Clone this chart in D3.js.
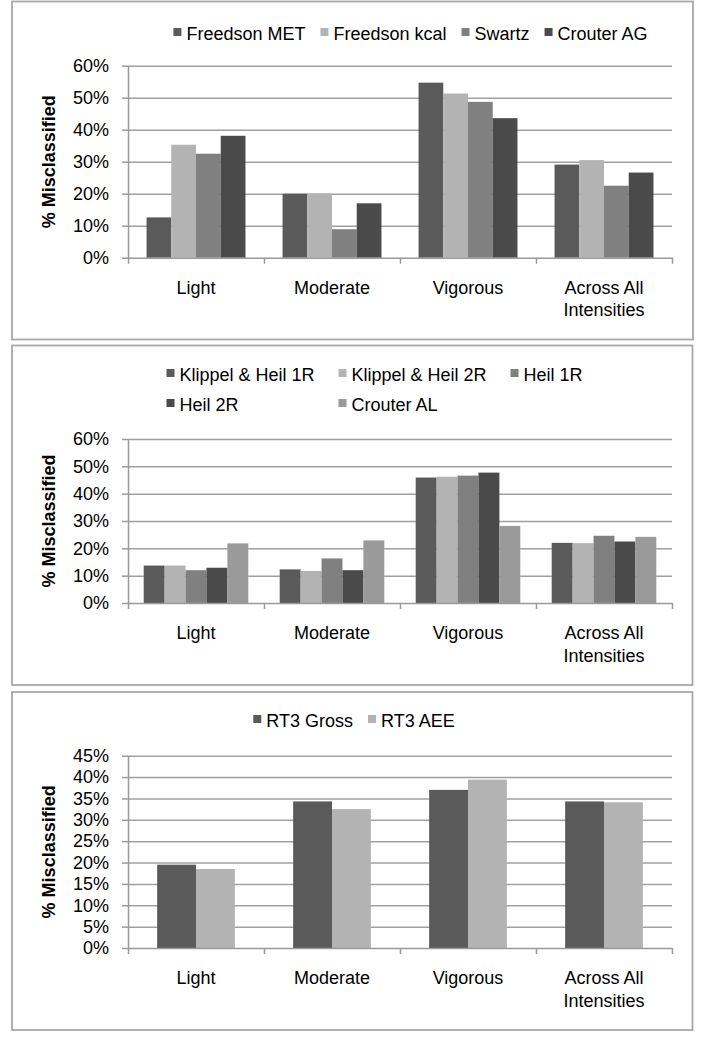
<!DOCTYPE html>
<html>
<head>
<meta charset="utf-8">
<script src="https://cdn.jsdelivr.net/npm/d3@7"></script>
<style>
  html, body { margin: 0; padding: 0; background: #fff; }
  svg { display: block; }
  text { font-family: "Liberation Sans", Arial, sans-serif; fill: #000; }
</style>
</head>
<body>
<svg id="chart" width="702" height="1050"></svg>
<script>
// ---------- data ----------
const categories = ["Light", "Moderate", "Vigorous", "Across All Intensities"];
const categoryLines = [["Light"], ["Moderate"], ["Vigorous"], ["Across All", "Intensities"]];

// Panel 1
const series1 = ["Freedson MET", "Freedson kcal", "Swartz", "Crouter AG"];
const freedsonMET  = [12.6, 20.0, 54.7, 29.1];
const freedsonKcal = [35.3, 20.1, 51.3, 30.5];
const swartz       = [32.5, 8.9, 48.7, 22.5];
const crouterAG    = [38.1, 17.0, 43.6, 26.6];
const yTicks1 = [0, 10, 20, 30, 40, 50, 60];

// Panel 2
const series2 = ["Klippel & Heil 1R", "Klippel & Heil 2R", "Heil 1R", "Heil 2R", "Crouter AL"];
const klippelHeil1R = [13.7, 12.3, 45.9, 22.0];
const klippelHeil2R = [13.7, 11.7, 46.2, 21.9];
const heil1R        = [12.0, 16.3, 46.6, 24.6];
const heil2R        = [12.9, 12.0, 47.7, 22.5];
const crouterAL     = [21.8, 22.9, 28.2, 24.2];
const yTicks2 = [0, 10, 20, 30, 40, 50, 60];

// Panel 3
const series3 = ["RT3 Gross", "RT3 AEE"];
const rt3Gross = [19.5, 34.3, 37.0, 34.3];
const rt3AEE   = [18.5, 32.5, 39.4, 34.1];
const yTicks3 = [0, 5, 10, 15, 20, 25, 30, 35, 40, 45];

// ---------- styles / layout ----------
const seriesColors1 = ["#5a5a5a", "#b3b3b3", "#808080", "#4a4a4a"];
const seriesColors2 = ["#5a5a5a", "#b3b3b3", "#808080", "#4a4a4a", "#9a9a9a"];
const seriesColors3 = ["#5a5a5a", "#b3b3b3"];

const panels = [
  { box: [12, 1.5, 681, 338], top: 65.7, bottom: 257.7, names: series1,
    values: [freedsonMET, freedsonKcal, swartz, crouterAG], colors: seriesColors1, ticks: yTicks1,
    legend: { type: "row", center: 410.5, y: [34] } },
  { box: [12, 345.5, 680.5, 339.5], top: 439, bottom: 603, names: series2,
    values: [klippelHeil1R, klippelHeil2R, heil1R, heil2R, crouterAL], colors: seriesColors2, ticks: yTicks2,
    legend: { type: "grid", x0: 166.5, colW: 172, cols: 3, y: [375, 405] } },
  { box: [12, 692, 680.5, 338], top: 755.7, bottom: 948, names: series3,
    values: [rt3Gross, rt3AEE], colors: seriesColors3, ticks: yTicks3,
    legend: { type: "row", center: 354, y: [721] } }
];

const svg = d3.select("#chart");
const plotLeft = 128, plotRight = 672;
const FONT = 18;

panels.forEach(p => {
  const g = svg.append("g");
  // border
  g.append("rect")
    .attr("x", p.box[0]).attr("y", p.box[1]).attr("width", p.box[2]).attr("height", p.box[3])
    .attr("fill", "#fff").attr("stroke", "#a8a8a8").attr("stroke-width", 1.8);

  const yMax = d3.max(p.ticks);
  const y = d3.scaleLinear().domain([0, yMax]).range([p.bottom, p.top]);
  const x = d3.scaleBand().domain(categories).range([plotLeft, plotRight]).padding(0);
  const xs = d3.scaleBand().domain(p.names).range([0, x.bandwidth()])
    .paddingInner(0).paddingOuter(0.75);

  // gridlines
  const grid = g.append("g").attr("transform", `translate(${plotLeft},0)`)
    .call(d3.axisLeft(y).tickValues(p.ticks.filter(t => t > 0)).tickSize(-(plotRight - plotLeft)).tickFormat(""));
  grid.select(".domain").remove();
  grid.selectAll(".tick line").attr("stroke", "#a0a0a0").attr("stroke-width", 1.5);

  // bars
  p.names.forEach((name, si) => {
    g.append("g").selectAll("rect")
      .data(p.values[si])
      .join("rect")
      .attr("x", (d, i) => x(categories[i]) + xs(name))
      .attr("width", xs.bandwidth())
      .attr("y", d => y(d))
      .attr("height", d => y(0) - y(d))
      .attr("fill", p.colors[si]);
  });

  // y axis
  const ya = g.append("g").attr("transform", `translate(${plotLeft},0)`)
    .call(d3.axisLeft(y).tickValues(p.ticks).tickFormat(d => d + "%").tickSize(6).tickSizeOuter(0).tickPadding(13));
  ya.select(".domain").attr("stroke", "#999").attr("stroke-width", 1.5);
  ya.selectAll(".tick line").attr("stroke", "#999").attr("stroke-width", 1.5);
  ya.selectAll(".tick text").attr("font-size", FONT).attr("font-family", "Liberation Sans, Arial, sans-serif").attr("fill", "#000");

  // x axis (boundary ticks)
  const xb = d3.scaleLinear().domain([0, categories.length]).range([plotLeft, plotRight]);
  const xa = g.append("g").attr("transform", `translate(0,${p.bottom})`)
    .call(d3.axisBottom(xb).tickValues(d3.range(categories.length + 1)).tickFormat("").tickSize(6).tickSizeOuter(0));
  xa.select(".domain").attr("stroke", "#999").attr("stroke-width", 1.5);
  xa.selectAll(".tick line").attr("stroke", "#999").attr("stroke-width", 1.5);

  // category labels
  categories.forEach((c, i) => {
    const t = g.append("text")
      .attr("x", x(c) + x.bandwidth() / 2)
      .attr("y", p.bottom + 36)
      .attr("text-anchor", "middle")
      .attr("font-size", FONT);
    categoryLines[i].forEach((line, li) => {
      t.append("tspan").attr("x", x(c) + x.bandwidth() / 2).attr("dy", li === 0 ? 0 : 22.5).text(line);
    });
  });

  // y axis title
  g.append("text")
    .attr("transform", `translate(55,${(p.top + p.bottom) / 2}) rotate(-90)`)
    .attr("text-anchor", "middle")
    .attr("font-size", FONT)
    .attr("font-weight", "bold")
    .text("% Misclassified");

  // legend
  const lg = g.append("g");
  if (p.legend.type === "row") {
    const items = p.names.map((name, i) => {
      const ig = lg.append("g");
      ig.append("rect").attr("x", 0).attr("y", -6).attr("width", 8).attr("height", 8).attr("fill", p.colors[i]);
      const t = ig.append("text").attr("x", 13).attr("y", 0).attr("dy", "0.35em").attr("font-size", FONT).text(name);
      return { ig, w: 13 + t.node().getComputedTextLength() };
    });
    const gap = 15;
    const total = d3.sum(items, d => d.w) + gap * (items.length - 1);
    let cx = p.legend.center - total / 2;
    items.forEach(it => {
      it.ig.attr("transform", `translate(${cx},${p.legend.y[0]})`);
      cx += it.w + gap;
    });
  } else {
    p.names.forEach((name, i) => {
      const col = i % p.legend.cols, row = Math.floor(i / p.legend.cols);
      const ig = lg.append("g").attr("transform", `translate(${p.legend.x0 + col * p.legend.colW},${p.legend.y[row]})`);
      ig.append("rect").attr("x", 0).attr("y", -6).attr("width", 8).attr("height", 8).attr("fill", p.colors[i]);
      ig.append("text").attr("x", 13).attr("y", 0).attr("dy", "0.35em").attr("font-size", FONT).text(name);
    });
  }
});
</script>
</body>
</html>
